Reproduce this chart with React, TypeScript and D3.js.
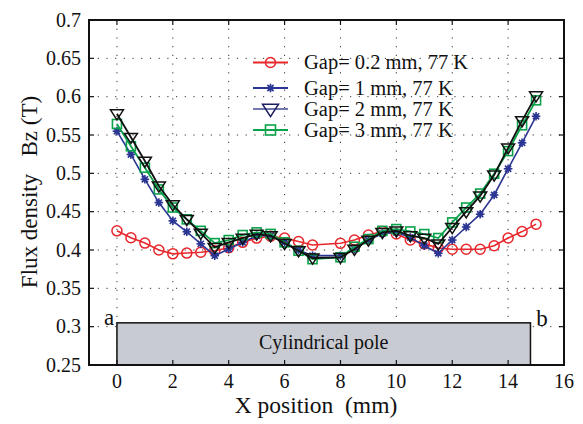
import React from "react";
import * as d3 from "d3";

const xPos = [0, 0.5, 1, 1.5, 2, 2.5, 3, 3.5, 4, 4.5, 5, 5.5, 6, 6.5, 7, 8, 8.5, 9, 9.5, 10, 10.5, 11, 11.5, 12, 12.5, 13, 13.5, 14, 14.5, 15];
const gap02 = [0.425, 0.416, 0.409, 0.400, 0.395, 0.396, 0.397, 0.399, 0.403, 0.410, 0.4155, 0.418, 0.4155, 0.411, 0.4065, 0.4087, 0.413, 0.4195, 0.424, 0.421, 0.413, 0.408, 0.4026, 0.401, 0.401, 0.401, 0.4056, 0.4156, 0.424, 0.4337];
const gap1 = [0.555, 0.5246, 0.4922, 0.4619, 0.438, 0.4238, 0.408, 0.3926, 0.4013, 0.410, 0.4186, 0.4186, 0.410, 0.400, 0.3926, 0.3926, 0.401, 0.413, 0.4216, 0.423, 0.4164, 0.4056, 0.3957, 0.413, 0.430, 0.4467, 0.4718, 0.506, 0.5398, 0.5744];
const gap2 = [0.5778, 0.547, 0.516, 0.4835, 0.459, 0.440, 0.422, 0.4035, 0.410, 0.4156, 0.4208, 0.4186, 0.4087, 0.399, 0.3896, 0.3905, 0.401, 0.413, 0.423, 0.425, 0.4186, 0.4156, 0.408, 0.4294, 0.450, 0.4705, 0.4978, 0.5333, 0.5688, 0.6012];
const gap3 = [0.5644, 0.5354, 0.5073, 0.479, 0.4554, 0.440, 0.425, 0.409, 0.413, 0.4195, 0.423, 0.421, 0.410, 0.399, 0.388, 0.3905, 0.4043, 0.4143, 0.425, 0.4273, 0.4242, 0.4208, 0.4156, 0.436, 0.4554, 0.4736, 0.4995, 0.529, 0.5627, 0.5952];
const legendLabels = ["Gap= 0.2 mm, 77 K", "Gap= 1 mm, 77 K", "Gap= 2 mm, 77 K", "Gap= 3 mm, 77 K"];
const xTicks = [0, 2, 4, 6, 8, 10, 12, 14, 16];
const yTicks = [0.25, 0.3, 0.35, 0.4, 0.45, 0.5, 0.55, 0.6, 0.65, 0.7];
const poleRange = [0, 14.8];
const poleTop = 0.305;

const W = 583, H = 424;
const L = 89, R = 564, T = 20, B = 365;
const FONT = "Liberation Serif";

const RED = "#e8262b", BLUE = "#2b3593", GREEN = "#0aa24a", BLACK = "#111111";

function Marker({ kind, x, y, color, big }: { kind: string; x: number; y: number; color: string; big?: boolean }) {
  if (kind === "circle") return <circle cx={x} cy={y} r={5} fill="none" stroke={color} strokeWidth={1.5} />;
  if (kind === "star") {
    const s = 4.3;
    return (
      <g stroke={color} strokeWidth={1.6}>
        <line x1={x - s} y1={y} x2={x + s} y2={y} />
        <line x1={x} y1={y - s} x2={x} y2={y + s} />
        <line x1={x - s * 0.72} y1={y - s * 0.72} x2={x + s * 0.72} y2={y + s * 0.72} />
        <line x1={x - s * 0.72} y1={y + s * 0.72} x2={x + s * 0.72} y2={y - s * 0.72} />
        <circle cx={x} cy={y} r={2.6} fill={color} stroke="none" />
      </g>
    );
  }
  if (kind === "tri") {
    const s = big ? 8 : 6.5;
    return <path d={`M${x - s},${y - s * 0.6}L${x + s},${y - s * 0.6}L${x},${y + s * 0.95}Z`} fill="none" stroke={color} strokeWidth={1.5} />;
  }
  const s = big ? 5 : 4.5;
  return <rect x={x - s} y={y - s} width={2 * s} height={2 * s} fill="none" stroke={color} strokeWidth={1.6} />;
}

export default function App() {
  const x = d3.scaleLinear().domain([-1, 16]).range([L, R]);
  const y = d3.scaleLinear().domain([0.25, 0.7]).range([B, T]);
  const line = d3.line<[number, number]>().x(d => x(d[0])).y(d => y(d[1]));

  const series = [
    { vals: gap02, color: RED, kind: "circle", lw: 1.6 },
    { vals: gap1, color: BLUE, kind: "star", lw: 1.6 },
    { vals: gap3, color: GREEN, kind: "square", lw: 1.8 },
    { vals: gap2, color: BLACK, kind: "tri", lw: 1.8 },
  ];

  const legend = [
    { color: RED, mcolor: RED, kind: "circle", y: 62.5 },
    { color: BLUE, mcolor: BLUE, kind: "star", y: 88 },
    { color: "#7478ac", mcolor: "#1f2060", kind: "tri", y: 109 },
    { color: GREEN, mcolor: GREEN, kind: "square", y: 130 },
  ];

  const fmt = (v: number) => String(+v.toFixed(2));
  const ts: React.CSSProperties = { fontFamily: FONT, whiteSpace: "pre" };

  return (
    <svg width={W} height={H} style={{ position: "absolute", left: 0, top: 0, background: "#fff", fontFamily: FONT }}>
      <rect x={0} y={0} width={W} height={H} fill="#fff" />
      {/* grid */}
      <g stroke="#333" strokeWidth={1} strokeDasharray="1.2,7.5">
        {xTicks.filter(t => t > -1 && t < 16).map(t => (
          <line key={"gx" + t} x1={x(t)} x2={x(t)} y1={T} y2={B} />
        ))}
        {yTicks.filter(t => t > 0.25 && t < 0.7).map(t => (
          <line key={"gy" + t} x1={L} x2={R} y1={y(t)} y2={y(t)} />
        ))}
      </g>
      {/* pole */}
      <rect x={x(poleRange[0])} y={y(poleTop)} width={x(poleRange[1]) - x(poleRange[0])} height={y(0.25) - y(poleTop)} fill="#c9cbd2" stroke="#111" strokeWidth={1.5} />
      <text style={ts} x={(x(poleRange[0]) + x(poleRange[1])) / 2} y={349} textAnchor="middle" fontSize={20} fill="#111">Cylindrical pole</text>
      <text style={ts} x={109} y={325} textAnchor="middle" fontSize={23} fill="#111">a</text>
      <text style={ts} x={542} y={326} textAnchor="middle" fontSize={23} fill="#111">b</text>
      {/* series */}
      {series.map((s, i) => {
        const pts: [number, number][] = xPos.map((xv, j) => [xv, s.vals[j]]);
        return (
          <g key={i}>
            <path d={line(pts) || ""} fill="none" stroke={s.color} strokeWidth={s.lw} />
            {pts.map((p, j) => <Marker key={j} kind={s.kind} x={x(p[0])} y={y(p[1])} color={s.color} />)}
          </g>
        );
      })}
      {/* legend */}
      {legend.map((l, i) => (
        <g key={"lg" + i}>
          <line x1={253} x2={288} y1={l.y} y2={l.y} stroke={l.color} strokeWidth={1.8} />
          <Marker kind={l.kind} x={270.5} y={l.y} color={l.mcolor} big />
          <text style={ts} x={304} y={l.y + 6.5} fontSize={20.5} fill="#111">{legendLabels[i]}</text>
        </g>
      ))}
      {/* frame and ticks */}
      <rect x={L} y={T} width={R - L} height={B - T} fill="none" stroke="#111" strokeWidth={2} />
      <g stroke="#111" strokeWidth={1.2}>
        {xTicks.filter(t => t > -1 && t < 16).map(t => (
          <g key={"tx" + t}>
            <line x1={x(t)} x2={x(t)} y1={B} y2={B - 5} />
            <line x1={x(t)} x2={x(t)} y1={T} y2={T + 5} />
          </g>
        ))}
        {yTicks.filter(t => t > 0.25 && t < 0.7).map(t => (
          <g key={"ty" + t}>
            <line x1={L} x2={L + 5} y1={y(t)} y2={y(t)} />
            <line x1={R} x2={R - 5} y1={y(t)} y2={y(t)} />
          </g>
        ))}
      </g>
      <g fontSize={20} fill="#111">
        {xTicks.map(t => (
          <text style={ts} key={"lx" + t} x={x(t)} y={388} textAnchor="middle">{t}</text>
        ))}
        {yTicks.map(t => (
          <text style={ts} key={"ly" + t} x={81} y={y(t) + 6.5} textAnchor="end">{fmt(t)}</text>
        ))}
      </g>
      <text style={ts} x={316} y={413} textAnchor="middle" fontSize={23.5} fill="#111">X position  (mm)</text>
      <text style={ts} transform={`translate(37,${192}) rotate(-90)`} textAnchor="middle" fontSize={23} fill="#111">Flux density   Bz (T)</text>
    </svg>
  );
}
